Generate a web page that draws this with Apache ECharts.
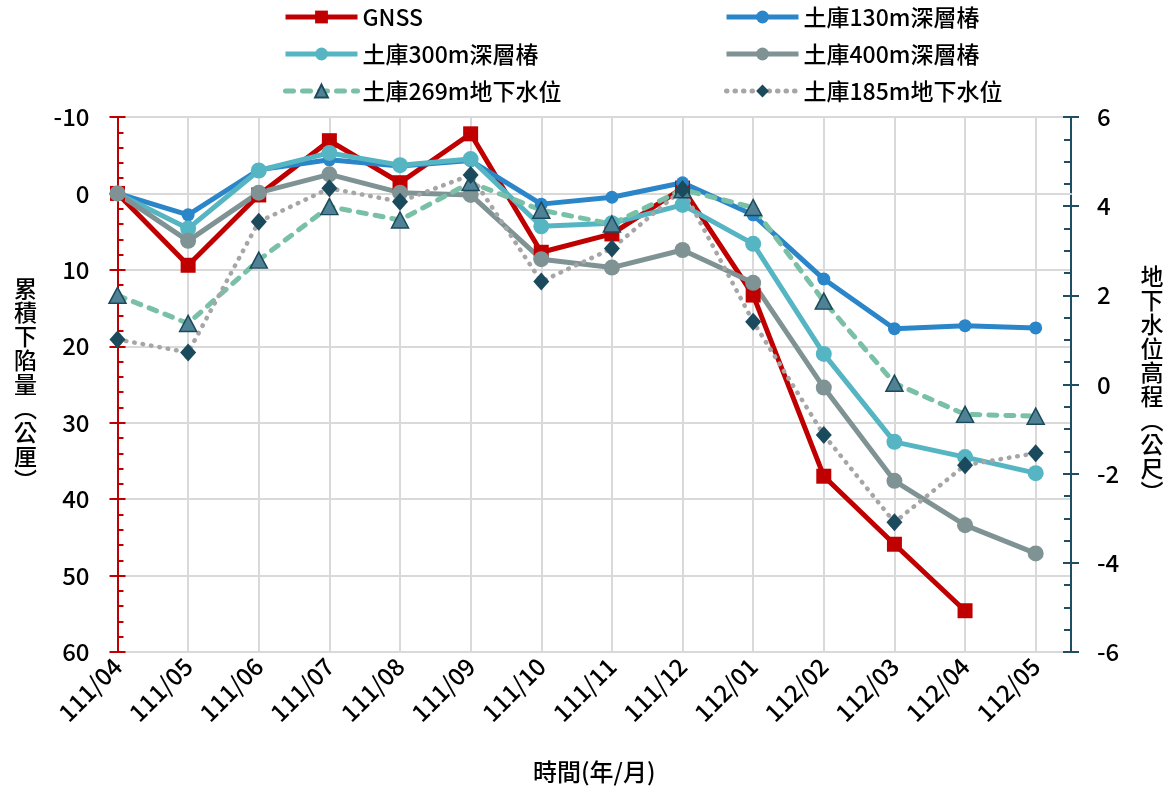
<!DOCTYPE html>
<html>
<head>
<meta charset="utf-8">
<script src="https://cdn.jsdelivr.net/npm/echarts@6/dist/echarts.min.js"></script>
<style>
html,body{margin:0;padding:0;background:#fff;}
#c{width:1171px;height:791px;}
</style>
</head>
<body>
<div id="c"></div>
<script>
var categories = ['111/04','111/05','111/06','111/07','111/08','111/09','111/10','111/11','111/12','112/01','112/02','112/03','112/04','112/05'];
var gnss   = [0, 9.4, 0.2, -6.9, -1.4, -7.8, 7.7, 5.3, -0.7, 13.3, 37.0, 45.9, 54.6, null];
var pile130 = [0, 2.8, -3.1, -4.4, -3.6, -4.3, 1.4, 0.5, -1.4, 2.8, 11.2, 17.7, 17.3, 17.6];
var pile300 = [0, 4.6, -3.0, -5.3, -3.7, -4.5, 4.3, 3.9, 1.5, 6.6, 21.0, 32.5, 34.5, 36.6];
var pile400 = [0, 6.2, -0.1, -2.5, -0.1, 0.2, 8.6, 9.7, 7.4, 11.7, 25.4, 37.6, 43.4, 47.1];
var gw269 = [2.0, 1.37, 2.79, 3.99, 3.69, 4.53, 3.91, 3.60, 4.37, 3.97, 1.87, 0.03, -0.67, -0.71];
var gw185 = [1.01, 0.72, 3.65, 4.40, 4.10, 4.70, 2.31, 3.05, 4.38, 1.41, -1.13, -3.09, -1.81, -1.54];
var leftTicks = {min: -10, max: 60, interval: 10};
var rightTicks = {min: -6, max: 6, interval: 2};

function pts(arr){ return arr.map(function(v,i){ return [i, v]; }); }

var FONT = '"Noto Sans CJK TC","Noto Sans",sans-serif';
var RED = '#C00000', TEAL = '#1F4E63', GRID = '#D9D9D9';

var chart = echarts.init(document.getElementById('c'), null, {renderer:'canvas'});

function legendCfg(left, names){
  return {left: left, top: 5, padding: 0, orient: 'vertical', itemWidth: 72, itemHeight: 16, itemGap: 13,
    lineStyle: {width: 5},
    textStyle: {fontFamily: FONT, fontSize: 23, fontWeight: 500, color: '#000', padding: [0,0,0,0], lineHeight: 24},
    data: names};
}

var option = {
  backgroundColor: '#fff',
  animation: false,
  textStyle: {fontFamily: FONT},
  legend: [
    legendCfg(283, ['GNSS', '土庫300m深層椿', '土庫269m地下水位']),
    legendCfg(724, ['土庫130m深層椿', '土庫400m深層椿', '土庫185m地下水位'])
  ],
  grid: {left: 117.5, right: 100, top: 117, bottom: 139, containLabel: false, outerBoundsMode: 'none'},
  xAxis: {
    type: 'value', min: 0, max: 13.5, interval: 1,
    name: '時間(年/月)', nameLocation: 'middle', nameGap: 108,
    nameTextStyle: {fontFamily: FONT, fontSize: 24, color: '#000', fontWeight: 500},
    axisLine: {show: true, lineStyle: {color: GRID, width: 2}},
    axisTick: {show: false},
    axisLabel: {
      rotate: 45, margin: 10, fontFamily: FONT, fontSize: 24, fontWeight: 500, color: '#000',
      formatter: function(v){ return (Math.abs(v - Math.round(v)) < 1e-6 && categories[Math.round(v)]) ? categories[Math.round(v)] : ''; }
    },
    splitLine: {show: true, lineStyle: {color: GRID, width: 2}}
  },
  yAxis: [
    {
      type: 'value', position: 'left', inverse: true,
      min: leftTicks.min, max: leftTicks.max, interval: leftTicks.interval,
      name: '累\n積\n下\n陷\n量\n︵\n公\n厘\n︶', nameLocation: 'middle', nameGap: 92, nameRotate: 0,
      nameTextStyle: {fontFamily: FONT, fontSize: 23, fontWeight: 500, color: '#000', lineHeight: 24, align: 'center', verticalAlign: 'middle'},
      axisLine: {show: true, lineStyle: {color: RED, width: 2}},
      axisTick: {show: true, inside: true, length: 8, lineStyle: {color: RED, width: 2}},
      minorTick: {show: true, splitNumber: 5, length: 6, lineStyle: {color: RED, width: 2}},
      axisLabel: {margin: 28, fontFamily: FONT, fontSize: 24, fontWeight: 500, color: '#000'},
      splitLine: {show: true, lineStyle: {color: GRID, width: 2}}
    },
    {
      type: 'value', position: 'right',
      min: rightTicks.min, max: rightTicks.max, interval: rightTicks.interval,
      name: '地\n下\n水\n位\n高\n程\n︵\n公\n尺\n︶', nameLocation: 'middle', nameGap: 81, nameRotate: 0,
      nameTextStyle: {fontFamily: FONT, fontSize: 23, fontWeight: 500, color: '#000', lineHeight: 24, align: 'center', verticalAlign: 'middle'},
      axisLine: {show: true, lineStyle: {color: TEAL, width: 2}},
      axisTick: {show: true, inside: true, length: 8, lineStyle: {color: TEAL, width: 2}},
      minorTick: {show: true, splitNumber: 4, length: 7, lineStyle: {color: TEAL, width: 2}},
      axisLabel: {margin: 26, fontFamily: FONT, fontSize: 24, fontWeight: 500, color: '#000'},
      splitLine: {show: false}
    },
    {
      type: 'value', position: 'left', inverse: true,
      min: leftTicks.min, max: leftTicks.max, interval: leftTicks.interval,
      axisLine: {show: true, lineStyle: {color: RED, width: 2}},
      axisTick: {show: true, inside: false, length: 8, lineStyle: {color: RED, width: 2}},
      axisLabel: {show: false}, splitLine: {show: false}
    },
    {
      type: 'value', position: 'right',
      min: rightTicks.min, max: rightTicks.max, interval: rightTicks.interval,
      axisLine: {show: true, lineStyle: {color: TEAL, width: 2}},
      axisTick: {show: true, inside: false, length: 8, lineStyle: {color: TEAL, width: 2}},
      axisLabel: {show: false}, splitLine: {show: false}
    }
  ],
  series: [
    {name: 'GNSS', type: 'line', yAxisIndex: 0, data: pts(gnss),
     symbol: 'rect', symbolSize: 15, showAllSymbol: true,
     lineStyle: {color: RED, width: 5}, itemStyle: {color: RED}},
    {name: '土庫130m深層椿', type: 'line', yAxisIndex: 0, data: pts(pile130),
     symbol: 'circle', symbolSize: 13,
     lineStyle: {color: '#2A86C8', width: 5}, itemStyle: {color: '#2A86C8'}},
    {name: '土庫300m深層椿', type: 'line', yAxisIndex: 0, data: pts(pile300),
     symbol: 'circle', symbolSize: 16,
     lineStyle: {color: '#56B5C3', width: 5}, itemStyle: {color: '#56B5C3'}},
    {name: '土庫400m深層椿', type: 'line', yAxisIndex: 0, data: pts(pile400),
     symbol: 'circle', symbolSize: 16,
     lineStyle: {color: '#7F9294', width: 5}, itemStyle: {color: '#7F9294'}},
    {name: '土庫269m地下水位', type: 'line', yAxisIndex: 1, data: pts(gw269),
     symbol: 'triangle', symbolSize: [17, 16],
     lineStyle: {color: '#79C0A7', width: 5, type: [8, 9], cap: 'round'},
     itemStyle: {color: '#4F8294', borderColor: '#1B4A5C', borderWidth: 1.5}},
    {name: '土庫185m地下水位', type: 'line', yAxisIndex: 1, data: pts(gw185),
     symbol: 'diamond', symbolSize: [16, 18],
     lineStyle: {color: '#A6A6A6', width: 4.5, type: [0.5, 8], cap: 'round'},
     itemStyle: {color: '#1B4A5C'}}
  ]
};
chart.setOption(option);
</script>
</body>
</html>
